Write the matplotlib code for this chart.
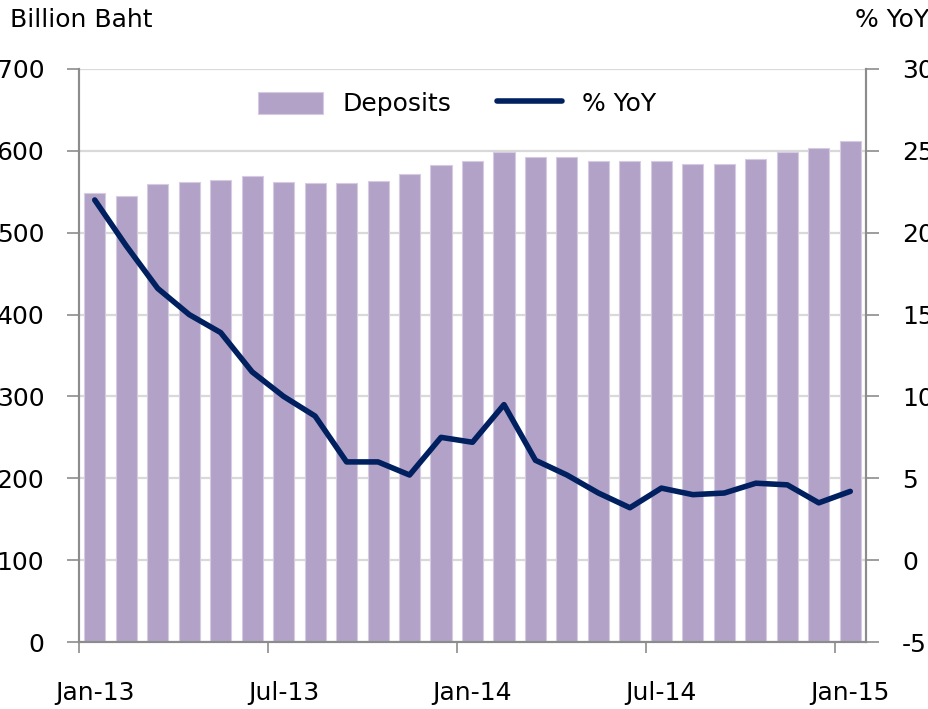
import matplotlib.pyplot as plt
import numpy as np

months = ['Jan-13', 'Feb-13', 'Mar-13', 'Apr-13', 'May-13', 'Jun-13', 'Jul-13', 'Aug-13',
          'Sep-13', 'Oct-13', 'Nov-13', 'Dec-13', 'Jan-14', 'Feb-14', 'Mar-14', 'Apr-14',
          'May-14', 'Jun-14', 'Jul-14', 'Aug-14', 'Sep-14', 'Oct-14', 'Nov-14', 'Dec-14', 'Jan-15']
deposits = [548, 545, 559, 562, 564, 569, 562, 561, 561, 563, 572, 583, 588,
            598, 593, 592, 587, 588, 587, 584, 584, 590, 598, 603, 612]
yoy = [22.0, 19.2, 16.6, 15.0, 13.9, 11.5, 10.0, 8.8, 6.0, 6.0, 5.2, 7.5, 7.2,
       9.5, 6.1, 5.2, 4.1, 3.2, 4.4, 4.0, 4.1, 4.7, 4.6, 3.5, 4.2]
label_months = ['Jan-13', 'Jul-13', 'Jan-14', 'Jul-14', 'Jan-15']

plt.rcParams['font.family'] = ['DejaVu Sans']
plt.rcParams['axes.unicode_minus'] = False
fs = 18

fig = plt.figure(figsize=(9.29, 7.09), dpi=100)
ax = fig.add_axes([79/929, 1-642/709, (866-79)/929, (642-69)/709])
x = np.arange(len(months))

grid_col = '#d9d9d9'
spine_col = '#8c8c8c'

bars = ax.bar(x, deposits, width=0.67, color='#b3a2c7', edgecolor='#d5cbe3',
              linewidth=0.8, label='Deposits', zorder=2)
ax.set_xlim(-0.5, len(months) - 0.5)
ax.set_ylim(0, 700)
ax.set_yticks(range(0, 701, 100))
ax.yaxis.grid(True, color=grid_col, linewidth=1.6, zorder=0)
ax.set_axisbelow(True)

ax2 = ax.twinx()
line, = ax2.plot(x, yoy, color='#002060', linewidth=4, solid_capstyle='round',
                 solid_joinstyle='round', label='% YoY', zorder=3)
ax2.set_ylim(-5, 30)
ax2.set_yticks(range(-5, 31, 5))

# ticks at month boundaries, labels centered on bars
idx = [months.index(m) for m in label_months]
ax.set_xticks([i - 0.5 for i in idx])
ax.set_xticklabels([])
ax.set_xticks(idx, minor=True)
ax.set_xticklabels(label_months, minor=True)
ax.tick_params(axis='x', which='major', length=8, width=1.2, color=spine_col)
ax.tick_params(axis='x', which='minor', length=0, pad=28, labelsize=fs)
ax.tick_params(axis='y', length=9, width=1.2, color=spine_col, pad=16, labelsize=fs)
ax2.tick_params(axis='y', length=9, width=1.2, color=spine_col, pad=17, labelsize=fs)

for a in (ax, ax2):
    a.spines['top'].set_visible(False)
    for s in ('left', 'right', 'bottom'):
        a.spines[s].set_color(spine_col)
        a.spines[s].set_linewidth(1.5)

fig.text(10/929, 1-20/709, 'Billion Baht', fontsize=fs, va='center', ha='left')
fig.text(855/929, 1-20/709, '% YoY', fontsize=fs, va='center', ha='left')

ax.legend([bars, line], ['Deposits', '% YoY'], loc='upper center',
          bbox_to_anchor=(0.48, 1.0), ncol=2, frameon=False, fontsize=fs,
          handlelength=2.6, handleheight=1.0, columnspacing=1.8)

fig.savefig('out.png', dpi=100)
